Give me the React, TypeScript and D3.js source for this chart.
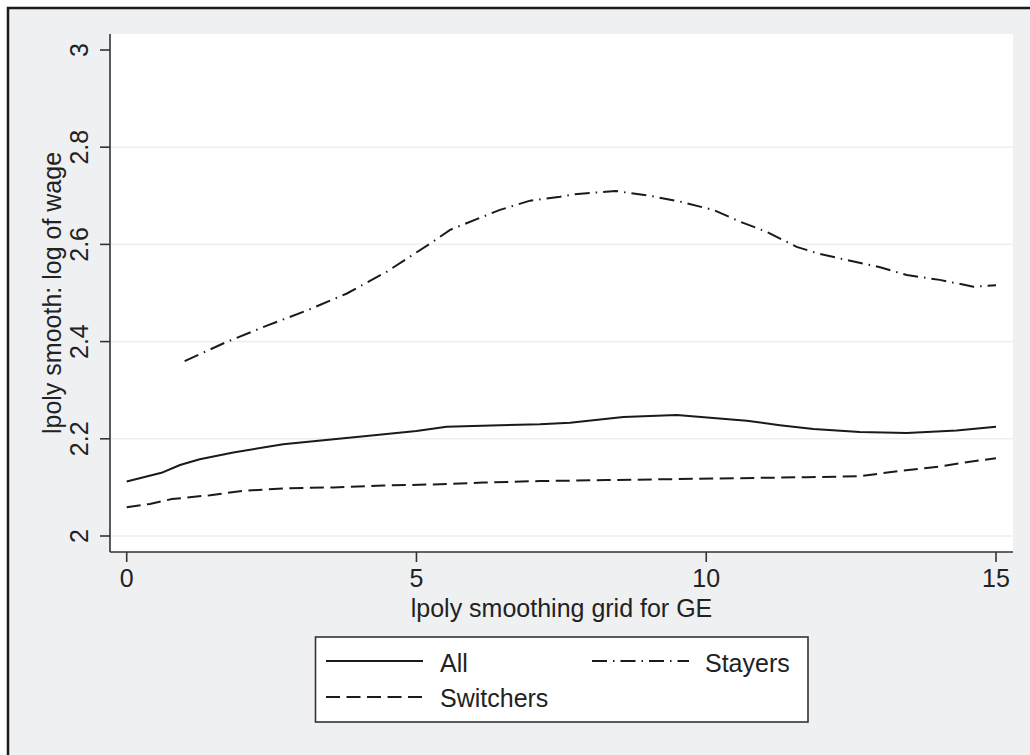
import React from "react";
import * as d3 from "d3";

// ---- data ----
const allX = [0, 0.6, 0.92, 1.26, 1.84, 2.7, 3.57, 4.14, 5.0, 5.52, 6.44, 7.13, 7.65, 8.57, 9.49, 10.7, 11.27, 11.85, 12.65, 13.46, 14.32, 15];
const allY = [2.112, 2.13, 2.146, 2.158, 2.172, 2.189, 2.199, 2.206, 2.216, 2.225, 2.228, 2.23, 2.233, 2.245, 2.249, 2.237, 2.228, 2.22, 2.214, 2.212, 2.217, 2.225];

const stayersX = [1.0, 1.7, 2.42, 3.11, 3.8, 4.49, 5.29, 5.58, 6.44, 6.96, 7.48, 7.71, 8.43, 9.03, 9.55, 10.12, 10.58, 11.04, 11.56, 11.91, 12.42, 13.0, 13.46, 14.03, 14.61, 15];
const stayersY = [2.36, 2.398, 2.433, 2.464, 2.499, 2.544, 2.606, 2.63, 2.671, 2.69, 2.698, 2.703, 2.71, 2.7, 2.688, 2.671, 2.647, 2.626, 2.595, 2.582, 2.568, 2.553, 2.537, 2.527, 2.513, 2.516];

const switchersX = [0, 0.4, 0.78, 1.44, 2.01, 2.7, 3.57, 4.43, 5.29, 6.15, 7.13, 8.28, 9.43, 10.58, 11.73, 12.65, 13.34, 14.03, 14.61, 15];
const switchersY = [2.059, 2.066, 2.076, 2.084, 2.093, 2.098, 2.1, 2.104, 2.106, 2.11, 2.113, 2.115, 2.117, 2.119, 2.121, 2.123, 2.134, 2.143, 2.154, 2.16];

const xTicks = [0, 5, 10, 15];
const yTicks = [2, 2.2, 2.4, 2.6, 2.8, 3];
const yGrid = [2, 2.2, 2.4, 2.6, 2.8];

const xTitle = "lpoly smoothing grid for GE";
const yTitle = "lpoly smooth: log of wage";
const legendLabels = ["All", "Stayers", "Switchers"];

// ---- layout ----
const W = 1030;
const H = 755;
const plotL = 110;
const plotR = 1013;
const plotT = 34;
const plotB = 552;

const FONT = "'Liberation Sans', Arial, Helvetica, sans-serif";
const FS = 25;
const TXT = "#222";
const AX = "#333";
const LINE = "#1a1a1a";

const DASH = "14 6.5";
const DASHDOT = "15 6 1.5 6";

export default function App() {
  const x = d3.scaleLinear().domain([0, 15]).range([126.7, 996]);
  const y = d3.scaleLinear().domain([2, 3]).range([536, 50]);

  const mk = (xs: number[], ys: number[]) =>
    d3
      .line<number>()
      .x((_, i) => x(xs[i]))
      .y((v) => y(v))(ys) as string;

  return (
    <svg
      width={W}
      height={H}
      style={{ position: "absolute", left: 0, top: 0 }}
      fontFamily={FONT}
    >
      <rect x={0} y={0} width={W} height={H} fill="#ffffff" />
      <rect x={7} y={7} width={W - 7} height={H - 7} fill="#eff0f2" />
      <path d={`M8,${H} V8 H${W}`} fill="none" stroke="#1a1a1a" strokeWidth={2.5} />

      {/* plot region */}
      <rect x={plotL} y={plotT} width={plotR - plotL} height={plotB - plotT} fill="#ffffff" />
      {yGrid.map((t) => (
        <line key={t} x1={plotL} x2={plotR} y1={y(t)} y2={y(t)} stroke="#eef0f0" strokeWidth={1.6} />
      ))}

      {/* series */}
      <path d={mk(allX, allY)} fill="none" stroke={LINE} strokeWidth={2} strokeLinejoin="round" />
      <path d={mk(stayersX, stayersY)} fill="none" stroke={LINE} strokeWidth={2} strokeDasharray={DASHDOT} />
      <path d={mk(switchersX, switchersY)} fill="none" stroke={LINE} strokeWidth={2} strokeDasharray={DASH} />

      {/* axes */}
      <line x1={plotL} x2={plotL} y1={plotT} y2={plotB} stroke={AX} strokeWidth={1.6} />
      <line x1={plotL} x2={plotR} y1={plotB} y2={plotB} stroke={AX} strokeWidth={1.6} />
      {yTicks.map((t) => (
        <g key={t}>
          <line x1={plotL - 10} x2={plotL} y1={y(t)} y2={y(t)} stroke={AX} strokeWidth={1.6} />
          <text
            transform={`translate(88,${y(t)}) rotate(-90)`}
            textAnchor="middle"
            fontSize={FS}
            fill={TXT}
          >
            {String(t)}
          </text>
        </g>
      ))}
      {xTicks.map((t) => (
        <g key={t}>
          <line x1={x(t)} x2={x(t)} y1={plotB} y2={plotB + 10} stroke={AX} strokeWidth={1.6} />
          <text x={x(t)} y={587} textAnchor="middle" fontSize={FS} fill={TXT}>
            {String(t)}
          </text>
        </g>
      ))}

      {/* titles */}
      <text x={(plotL + plotR) / 2} y={617} textAnchor="middle" fontSize={FS} fill={TXT}>
        {xTitle}
      </text>
      <text
        transform={`translate(61,${(plotT + plotB) / 2}) rotate(-90)`}
        textAnchor="middle"
        fontSize={FS}
        fill={TXT}
      >
        {yTitle}
      </text>

      {/* legend */}
      <rect x={315.5} y={637} width={492.5} height={85} fill="#ffffff" stroke={AX} strokeWidth={1.6} />
      <line x1={326} x2={423} y1={661} y2={661} stroke={LINE} strokeWidth={2} />
      <text x={440} y={672} fontSize={FS} fill={TXT}>{legendLabels[0]}</text>
      <line x1={592} x2={689} y1={661} y2={661} stroke={LINE} strokeWidth={2} strokeDasharray={DASHDOT} />
      <text x={705} y={672} fontSize={FS} fill={TXT}>{legendLabels[1]}</text>
      <line x1={326} x2={423} y1={697} y2={697} stroke={LINE} strokeWidth={2} strokeDasharray={DASH} />
      <text x={440} y={707} fontSize={FS} fill={TXT}>{legendLabels[2]}</text>
    </svg>
  );
}
